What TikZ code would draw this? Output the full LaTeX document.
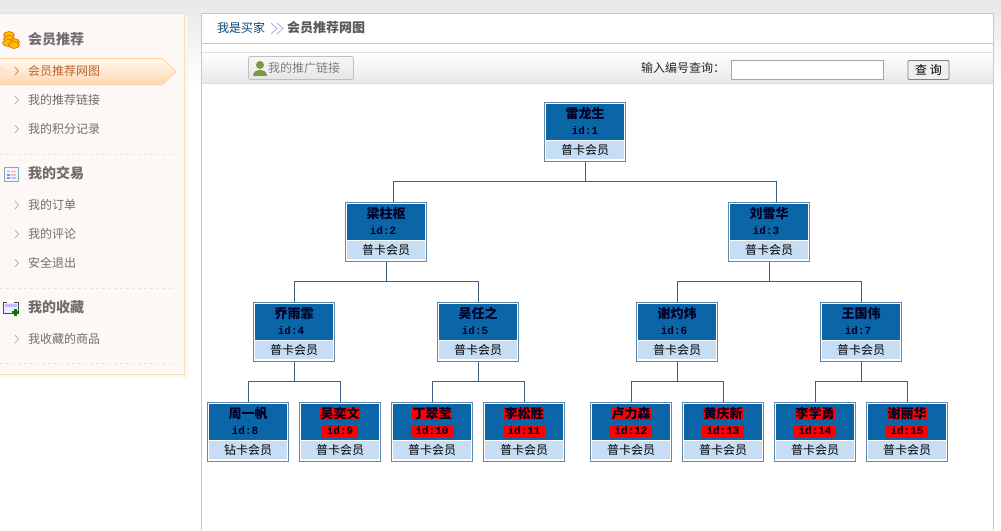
\documentclass[tikz,border=0pt]{standalone}
\usepackage{fontspec}
\setmainfont{Noto Sans CJK SC}
\setmonofont{Liberation Mono}
\usetikzlibrary{positioning}
\definecolor{treeline}{HTML}{3F5F85}
\definecolor{boxline}{HTML}{6487A8}
\definecolor{headblue}{HTML}{0B66A8}
\definecolor{cardblue}{HTML}{C6DDF3}
\definecolor{sidefill}{HTML}{FDF8F5}
\definecolor{sideline}{HTML}{F0E0BF}
\definecolor{menutext}{HTML}{6E6E6E}
\definecolor{activetext}{HTML}{B9652C}
\definecolor{cropgreen}{HTML}{7C9A45}
\newcommand{\fs}[1]{\fontsize{#1}{#1}\selectfont}

\begin{document}
\begin{tikzpicture}[x=1pt,y=-1pt,
    member_node/.style={rectangle,draw=boxline,line width=1pt,fill=white,minimum width=81pt,minimum height=59pt,inner sep=0pt},
    head_node/.style={rectangle,fill=headblue,minimum width=78pt,minimum height=36pt,inner sep=0pt},
    card_node/.style={rectangle,fill=cardblue,minimum width=78pt,minimum height=18.5pt,inner sep=0pt,font=\fs{12}},
    plain_name/.style={inner sep=0pt,text=black!85!blue,font=\fs{13}\bfseries,text height=11pt,text depth=1.5pt},
    plain_id/.style={inner sep=0pt,text=black!85!blue,font=\fs{11}\ttfamily\bfseries,text height=8.5pt,text depth=3.5pt},
    red_name/.style={plain_name,fill=red,inner xsep=0.5pt},
    red_id/.style={plain_id,fill=red,inner xsep=4.5pt},
    tree_line/.style={draw=treeline,line width=0.8pt},
    menu_head/.style={anchor=west,inner sep=0pt,text=menutext,font=\fs{14}\bfseries},
    menu_item/.style={anchor=west,inner sep=0pt,text=menutext,font=\fs{12}},
    chevron/.style={draw=black!30,line width=0.8pt},
    tool_text/.style={anchor=west,inner sep=0pt,font=\fs{12}}]
    \useasboundingbox (0,0) rectangle (1001,530);

    % page and panels
    \shade[top color=black!9,bottom color=white] (0,0) rectangle (1001,85);
    \fill[white] (0,378) rectangle (1001,530);
    \fill[white] (201,13) rectangle (993,530);
    \draw[black!22,line width=1pt] (201.5,530) -- (201.5,13.5) -- (993.5,13.5) -- (993.5,530);
    \draw[black!22,line width=1pt] (202,43.5) -- (993,43.5);
    \shade[top color=white,bottom color=black!9] (202,52) rectangle (993,83);
    \draw[black!13,line width=1pt] (202,52.5) -- (993,52.5);
    \draw[black!13,line width=1pt] (202,83.5) -- (993,83.5);

    % side menu
    \fill[sideline!25] (-2,16) rectangle (188,378);
    \draw[sideline,fill=sidefill,line width=1pt] (-2,13.5) rectangle (184.5,374.5);
    \draw[top color=orange!5,bottom color=orange!32,draw=orange!35,line width=0.8pt] (-2,58.5) -- (162,58.5) -- (176,71.5) -- (162,85) -- (-2,85) -- cycle;
    \fill[orange!22] (0,65) -- (6,71.5) -- (0,78) -- cycle;
    \foreach \y in {154,288,363}
        \draw[black!10,dashed,line width=0.6pt] (0,\y) -- (175,\y);
    \foreach \y in {71,100,129,205,234,263,339}
        \draw[chevron] (15,\y-4) -- (18.5,\y) -- (15,\y+4);
    \draw[orange!50!activetext!70,line width=0.8pt] (15,67) -- (18.5,71) -- (15,75);

    \node[menu_head] (head1) at (28,39.5) {会员推荐};
    \node[menu_head] (head2) at (28,173.5) {我的交易};
    \node[menu_head] (head3) at (28,307.5) {我的收藏};
    \node[menu_item,text=activetext] (item1) at (28,71) {会员推荐网图};
    \node[menu_item] (item2) at (28,100) {我的推荐链接};
    \node[menu_item] (item3) at (28,129) {我的积分记录};
    \node[menu_item] (item4) at (28,205) {我的订单};
    \node[menu_item] (item5) at (28,234) {我的评论};
    \node[menu_item] (item6) at (28,263) {安全退出};
    \node[menu_item] (item7) at (28,339) {我收藏的商品};

    % menu icons
    \foreach \a/\b in {9/35,9/39,14/42,8/43,14/45}
        \draw[orange!80!black,fill=orange!55!yellow,line width=0.5pt] (\a,\b) ellipse (5.5 and 3.5);
    \draw[cyan!50!black!60,fill=blue!4,line width=1pt] (4.5,167.5) rectangle (18.5,181);
    \fill[orange!70] (7,170.5) rectangle (10,172);
    \fill[blue!45] (7,174) rectangle (10,175.5);
    \fill[blue!45] (7,177) rectangle (10,178.5);
    \fill[blue!25] (11,170.5) rectangle (16,172);
    \fill[orange!45] (11,174) rectangle (16,175.5);
    \fill[blue!25] (11,177) rectangle (16,178.5);
    \draw[black!70,fill=blue!8,line width=0.8pt] (3.5,302) rectangle (18,313.5);
    \fill[white] (7,300) rectangle (14,303);
    \fill[blue!25] (5,304) rectangle (17,307);
    \fill[green!50!black] (11.5,311) rectangle (19,314);
    \fill[green!50!black] (13.5,308.5) rectangle (16.5,316);

    % breadcrumb
    \node[tool_text,text=headblue!70!black] (crumb1) at (217,28) {我是买家};
    \foreach \a in {271,277}
        \draw[black!30!blue!35,line width=0.7pt] (\a,23) -- (\a+6,28.5) -- (\a,34);
    \node[tool_text,text=black!65,font=\fs{13}\bfseries] (crumb2) at (287,28) {会员推荐网图};

    % toolbar
    \draw[black!25,rounded corners=2pt,top color=black!3,bottom color=black!10,line width=0.8pt] (248.5,56.5) rectangle (353.5,79.5);
    \fill[cropgreen] (260,65) circle (4);
    \fill[cropgreen] (253,76) .. controls (253,68) and (267,68) .. (267,76) -- cycle;
    \node[tool_text,text=black!50] (share) at (268,68) {我的推广链接};
    \node[tool_text,text=black!85] (search) at (641,68) {输入编号查询：};
    \node[rectangle,draw=black!35,fill=white,line width=0.8pt,minimum width=152pt,minimum height=19pt,inner sep=0pt] (input) at (807.5,69.5) {};
    \node[rectangle,draw=black!50,fill=black!6,line width=0.8pt,rounded corners=1pt,minimum width=41pt,minimum height=19pt,inner sep=0pt,font=\fs{12}] (query) at (928.5,70) {查 询};

    % member tree
    \foreach \i/\x/\y/\nm/\card/\dx/\st in {
        1/585/102.5/雷龙生/普卡会员/0/plain,
        2/386/202.5/梁柱枢/普卡会员/-3/plain,
        3/769/202.5/刘雪华/普卡会员/-3/plain,
        4/294/302.5/乔雨霏/普卡会员/-3/plain,
        5/478/302.5/吴任之/普卡会员/-3/plain,
        6/677/302.5/谢灼炜/普卡会员/-3/plain,
        7/861/302.5/王国伟/普卡会员/-3/plain,
        8/248/402.5/周一帆/钻卡会员/-3/plain,
        9/340/402.5/吴奕文/普卡会员/0/red,
        10/432/402.5/丁翠莹/普卡会员/0/red,
        11/524/402.5/李松胜/普卡会员/0/red,
        12/631/402.5/卢力森/普卡会员/0/red,
        13/723/402.5/黄庆新/普卡会员/0/red,
        14/815/402.5/李学勇/普卡会员/0/red,
        15/907/402.5/谢丽华/普卡会员/0/red}{
        \node[member_node] (\i) at (\x,\y+29) {};
        \node[head_node] (\i-head) at (\x,\y+19.5) {};
        \node[card_node] (\i-card) at (\x,\y+47.5) {\card};
        \node[\st_name] (\i-name) at (\x,\y+11) {\nm};
        \node[\st_id] (\i-id) at (\x+\dx,\y+29) {id:\i};
    }

    \draw[tree_line] (1.south) -- ++(0,20) -| ([xshift=7pt]2.north);
    \draw[tree_line] (1.south) -- ++(0,20) -| ([xshift=7pt]3.north);
    \foreach \p/\a/\b in {2/4/5,3/6/7,4/8/9,5/10/11,6/12/13,7/14/15}{
        \draw[tree_line] (\p.south) -- ++(0,20) -| (\a.north);
        \draw[tree_line] (\p.south) -- ++(0,20) -| (\b.north);
    }
\end{tikzpicture}
\end{document}
